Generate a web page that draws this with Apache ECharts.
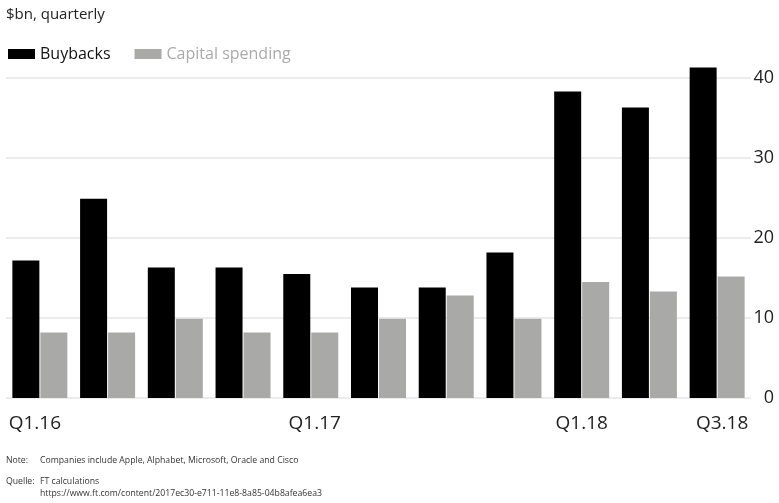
<!DOCTYPE html>
<html>
<head>
<meta charset="utf-8">
<script src="https://cdn.jsdelivr.net/npm/echarts@6/dist/echarts.min.js"></script>
<style>
  html, body { margin: 0; padding: 0; background: #fff; }
  #chart { width: 779px; height: 503px; }
</style>
</head>
<body>
<div id="chart"></div>
<script>
// Quarterly figures, $bn
const quarters = ['Q1.16', 'Q2.16', 'Q3.16', 'Q4.16', 'Q1.17', 'Q2.17', 'Q3.17', 'Q4.17', 'Q1.18', 'Q2.18', 'Q3.18'];
const buybacks = [17.2, 24.9, 16.3, 16.3, 15.5, 13.8, 13.8, 18.2, 38.3, 36.3, 41.3];
const capitalSpending = [8.2, 8.2, 9.9, 8.2, 8.2, 9.9, 12.8, 9.9, 14.5, 13.3, 15.2];
const labelledQuarters = ['Q1.16', 'Q1.17', 'Q1.18', 'Q3.18'];
const yTicks = [0, 10, 20, 30, 40];

const FONT = '"Open Sans", "Noto Sans", sans-serif';
const BLACK = '#000000';
const GREY = '#a9a9a8';

// nudge the outer quarter labels slightly toward the chart edges
const labelNudge = { 'Q1.16': -5, 'Q1.17': 4, 'Q3.18': 5 };
const categoryData = quarters.map(q => {
  const n = labelNudge[q] || 0;
  if (!n) return q;
  return { value: q, textStyle: { padding: n < 0 ? [0, -2 * n, 0, 0] : [0, 0, 0, 2 * n] } };
});

const chart = echarts.init(document.getElementById('chart'), null, { renderer: 'canvas' });

chart.setOption({
  animation: false,
  backgroundColor: '#ffffff',
  textStyle: { fontFamily: FONT },
  grid: { left: 6, right: 28, top: 78, bottom: 105, containLabel: false },
  legend: {
    left: 3,
    top: 41,
    icon: 'rect',
    itemWidth: 27,
    itemHeight: 10,
    itemGap: 24,
    textStyle: { fontSize: 16, fontFamily: FONT },
    data: [
      { name: 'Buybacks', textStyle: { color: '#111' } },
      { name: 'Capital spending', textStyle: { color: '#aaaaaa' } }
    ]
  },
  xAxis: {
    type: 'category',
    data: categoryData,
    axisLine: { show: false },
    axisTick: { show: false },
    axisLabel: {
      interval: (i, v) => labelledQuarters.includes(v),
      fontSize: 19,
      color: '#222',
      margin: 16,
      fontFamily: FONT
    }
  },
  yAxis: {
    type: 'value',
    position: 'right',
    min: yTicks[0],
    max: yTicks[yTicks.length - 1],
    interval: 10,
    axisLine: { show: false },
    axisTick: { show: false },
    axisLabel: {
      fontSize: 18,
      color: '#222',
      align: 'right',
      margin: 23,
      fontFamily: FONT
    },
    splitLine: { show: true, lineStyle: { color: '#e6e6e6', width: 1.5 } }
  },
  series: [
    {
      name: 'Buybacks',
      type: 'bar',
      data: buybacks,
      barWidth: 27,
      barGap: '3.7%',
      clip: false,
      itemStyle: { color: BLACK }
    },
    {
      name: 'Capital spending',
      type: 'bar',
      data: capitalSpending,
      barWidth: 27,
      clip: false,
      itemStyle: { color: GREY }
    }
  ],
  graphic: [
    {
      type: 'text', left: 6, top: 7,
      style: { text: '$bn, quarterly', fontSize: 15, fill: '#222', fontFamily: FONT }
    },
    {
      type: 'text', left: 6, top: 456,
      style: { text: 'Note:', fontSize: 8.7, fill: '#333', fontFamily: FONT }
    },
    {
      type: 'text', left: 40, top: 456,
      style: { text: 'Companies include Apple, Alphabet, Microsoft, Oracle and Cisco', fontSize: 8.7, fill: '#333', fontFamily: FONT }
    },
    {
      type: 'text', left: 6, top: 477,
      style: { text: 'Quelle:', fontSize: 8.7, fill: '#333', fontFamily: FONT }
    },
    {
      type: 'text', left: 40, top: 477,
      style: { text: 'FT calculations', fontSize: 8.7, fill: '#333', fontFamily: FONT }
    },
    {
      type: 'text', left: 40, top: 489,
      style: { text: 'https://www.ft.com/content/2017ec30-e711-11e8-8a85-04b8afea6ea3', fontSize: 8.7, fill: '#333', fontFamily: FONT }
    }
  ]
});
</script>
</body>
</html>
